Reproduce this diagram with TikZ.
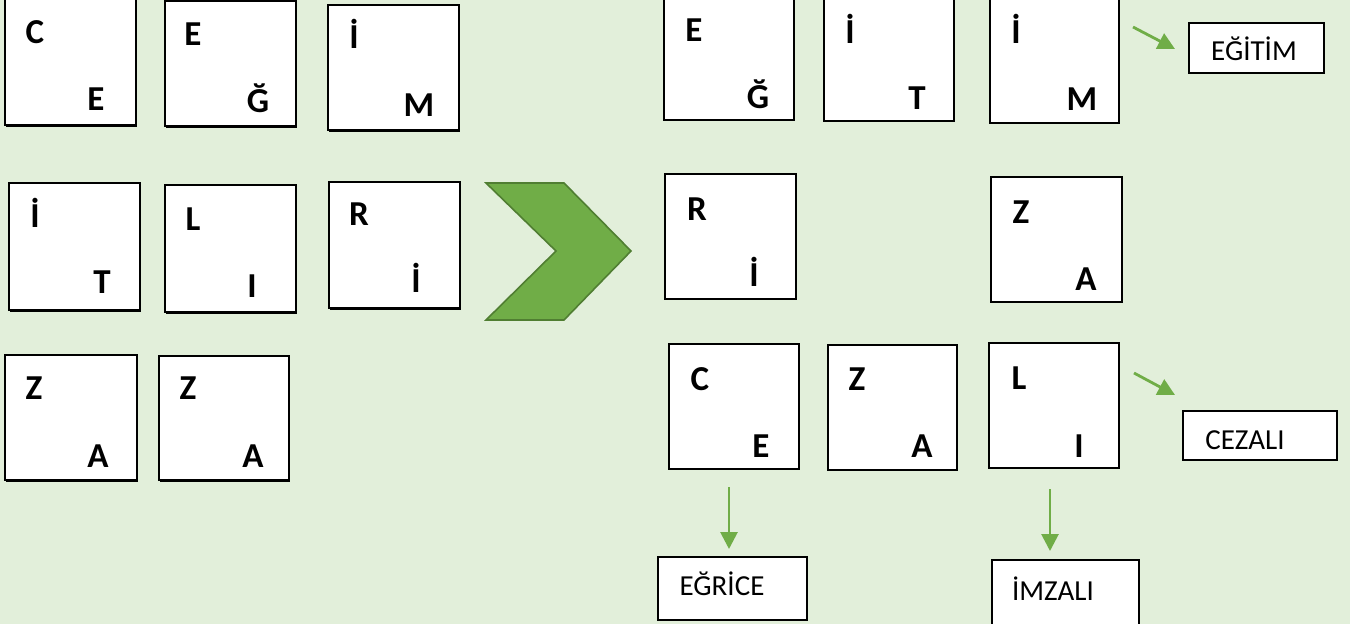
\documentclass[tikz,border=0pt]{standalone}
\usepackage{fontspec}
\setmainfont{Carlito}
\definecolor{bg}{HTML}{E2EFDA}
\definecolor{grn}{HTML}{70AD47}
\definecolor{dgrn}{HTML}{507E32}
\tikzset{
  tile/.style={draw=black, fill=white, line width=1.5pt, inner sep=0pt, outer sep=0pt},
  stile/.style={tile, drop shadow={shadow xshift=1.2pt, shadow yshift=-1.8pt, fill=black, opacity=1}},
  let/.style={anchor=base, inner sep=0pt, font=\fontsize{35}{35}\selectfont\bfseries},
  lbox/.style={draw=black, fill=white, line width=1.3pt, inner sep=0pt, outer sep=0pt},
  ltext/.style={anchor=base, inner sep=0pt, font=\fontsize{29}{29}\selectfont},
  garrow/.style={draw=grn, line width=2.8pt, -{Triangle[length=17pt, width=17pt]}}
}
\usetikzlibrary{shadows,arrows.meta}
\begin{document}
\begin{tikzpicture}[x=1pt, y=-1pt]
\fill[bg] (0,0) rectangle (1350,624);
\useasboundingbox (0,0) rectangle (1350,624);
% left tiles
\node[stile, minimum width=131pt, minimum height=126pt] (L1) at (70.5,62) {};
\node[stile, minimum width=131pt, minimum height=125pt] (L2) at (230.5,63.5) {};
\node[stile, minimum width=131pt, minimum height=125pt] (L3) at (393.5,67.5) {};
\node[stile, minimum width=131pt, minimum height=127pt] (L4) at (74.5,246.5) {};
\node[stile, minimum width=131pt, minimum height=127pt] (L5) at (230.5,248.5) {};
\node[stile, minimum width=131pt, minimum height=126pt] (L6) at (394.5,245) {};
\node[stile, minimum width=132pt, minimum height=125pt] (L7) at (71,417.5) {};
\node[stile, minimum width=130pt, minimum height=124pt] (L8) at (224,418) {};
\node[let] (L1a) at (35,43) {C};   \node[let] (L1b) at (96,110) {E};
\node[let] (L2a) at (193,45) {E};  \node[let] (L2b) at (258,112) {Ğ};
\node[let] (L3a) at (354,48) {İ};  \node[let] (L3b) at (419,116) {M};
\node[let] (L4a) at (35,227) {İ};  \node[let] (L4b) at (102,293) {T};
\node[let] (L5a) at (193,230) {L}; \node[let] (L5b) at (252,297) {I};
\node[let] (L6a) at (359,225) {R}; \node[let] (L6b) at (416,292) {İ};
\node[let] (L7a) at (34,399) {Z};  \node[let] (L7b) at (98,467) {A};
\node[let] (L8a) at (188,399) {Z}; \node[let] (L8b) at (253,467) {A};
% chevron
\draw[fill=grn, draw=dgrn, line width=1.6pt, line join=miter]
  (486,183) -- (564,183) -- (631,251) -- (564,320) -- (486,320) -- (556,251) -- cycle;
% right tiles
\node[tile, minimum width=130pt, minimum height=127pt] (R1) at (729,56.5) {};
\node[tile, minimum width=130pt, minimum height=128pt] (R2) at (889,57) {};
\node[tile, minimum width=129pt, minimum height=125pt] (R3) at (1054.5,60.5) {};
\node[tile, minimum width=131pt, minimum height=125pt] (R4) at (730.5,236.5) {};
\node[tile, minimum width=131pt, minimum height=125pt] (R5) at (1056.5,239.5) {};
\node[tile, minimum width=130pt, minimum height=125pt] (R6) at (734,406.5) {};
\node[tile, minimum width=129pt, minimum height=125pt] (R7) at (892.5,407.5) {};
\node[tile, minimum width=130pt, minimum height=125pt] (R8) at (1054,405.5) {};
\node[let] (R1a) at (694,41) {E};   \node[let] (R1b) at (758,108) {Ğ};
\node[let] (R2a) at (850,43) {İ};   \node[let] (R2b) at (917,109) {T};
\node[let] (R3a) at (1016,43) {İ};  \node[let] (R3b) at (1082,110) {M};
\node[let] (R4a) at (697,220) {R};  \node[let] (R4b) at (754,286) {İ};
\node[let] (R5a) at (1021,223) {Z}; \node[let] (R5b) at (1086,290) {A};
\node[let] (R6a) at (700,390) {C};  \node[let] (R6b) at (761,457) {E};
\node[let] (R7a) at (857,390) {Z};  \node[let] (R7b) at (922,457) {A};
\node[let] (R8a) at (1019,389) {L}; \node[let] (R8b) at (1079,457) {I};
% label boxes
\node[lbox, minimum width=135pt, minimum height=50pt] (B1) at (1256.5,48) {};
\node[lbox, minimum width=154pt, minimum height=49pt] (B2) at (1260,435.5) {};
\node[lbox, minimum width=149pt, minimum height=63pt] (B3) at (732.5,588.5) {};
\node[lbox, minimum width=147pt, minimum height=66pt] (B4) at (1065.5,593) {};
\node[ltext] (T1) at (1254,60) {EĞİTİM};
\node[ltext] (T2) at (1245,449) {CEZALI};
\node[ltext] (T3) at (722,595) {EĞRİCE};
\node[ltext] (T4) at (1053,600) {İMZALI};
% arrows
\coordinate (a1s) at (1133,27);  \coordinate (a1e) at (1175,49);
\coordinate (a2s) at (1134,373); \coordinate (a2e) at (1175,395);
\coordinate (a3s) at (729,487);  \coordinate (a3e) at (729,549);
\coordinate (a4s) at (1050,489); \coordinate (a4e) at (1050,551);
\draw[garrow] (a1s) -- (a1e);
\draw[garrow] (a2s) -- (a2e);
\draw[garrow] (a3s) -- (a3e);
\draw[garrow] (a4s) -- (a4e);
\end{tikzpicture}
\end{document}
